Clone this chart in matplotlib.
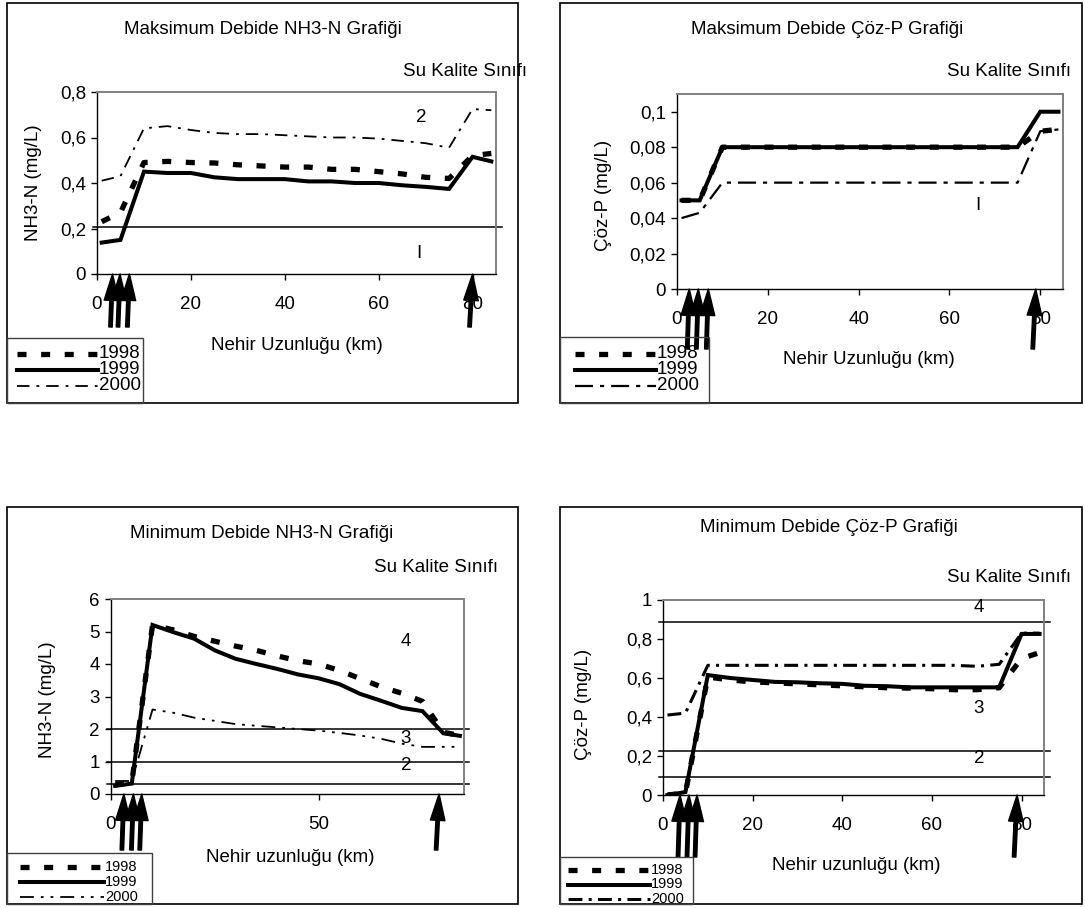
import matplotlib
matplotlib.use('Agg')
import matplotlib.pyplot as plt
from matplotlib.patches import Rectangle
from matplotlib.lines import Line2D

plt.rcParams['font.family'] = ['Liberation Sans', 'DejaVu Sans']
plt.rcParams['lines.scale_dashes'] = False

W, H = 1085, 908
FS = 13.5

# Nehir boyunca ölçüm noktaları (km)
km = [1, 5, 10, 15, 20, 25, 30, 35, 40, 45, 50, 55, 60, 65, 70, 75, 80, 84]
years = ['1998', '1999', '2000']

# Maksimum debide NH3-N (mg/L)
max_nh3_1998 = [0.23, 0.27, 0.49, 0.495, 0.49, 0.488, 0.48, 0.475, 0.47, 0.47, 0.46, 0.46, 0.45, 0.44, 0.425, 0.42, 0.52, 0.53]
max_nh3_1999 = [0.138, 0.15, 0.45, 0.444, 0.444, 0.425, 0.417, 0.417, 0.417, 0.407, 0.407, 0.40, 0.40, 0.39, 0.383, 0.374, 0.515, 0.495]
max_nh3_2000 = [0.41, 0.43, 0.64, 0.65, 0.633, 0.62, 0.615, 0.615, 0.61, 0.605, 0.60, 0.60, 0.595, 0.585, 0.575, 0.555, 0.725, 0.72]

# Maksimum debide Çöz-P (mg/L)
max_p_1998 = [0.05, 0.05, 0.08, 0.08, 0.08, 0.08, 0.08, 0.08, 0.08, 0.08, 0.08, 0.08, 0.08, 0.08, 0.08, 0.08, 0.089, 0.09]
max_p_1999 = [0.05, 0.05, 0.08, 0.08, 0.08, 0.08, 0.08, 0.08, 0.08, 0.08, 0.08, 0.08, 0.08, 0.08, 0.08, 0.08, 0.10, 0.10]
max_p_2000 = [0.04, 0.043, 0.06, 0.06, 0.06, 0.06, 0.06, 0.06, 0.06, 0.06, 0.06, 0.06, 0.06, 0.06, 0.06, 0.06, 0.089, 0.09]

# Minimum debide NH3-N (mg/L)
min_nh3_1998 = [0.28, 0.35, 5.2, 5.05, 4.85, 4.7, 4.55, 4.42, 4.25, 4.1, 4.0, 3.8, 3.55, 3.3, 3.1, 2.85, 1.9, 1.8]
min_nh3_1999 = [0.25, 0.32, 5.2, 4.98, 4.78, 4.42, 4.16, 4.0, 3.85, 3.68, 3.56, 3.38, 3.08, 2.87, 2.65, 2.55, 1.87, 1.79]
min_nh3_2000 = [0.4, 0.4, 2.6, 2.5, 2.35, 2.25, 2.15, 2.1, 2.05, 2.0, 1.95, 1.88, 1.8, 1.7, 1.55, 1.45, 1.45, 1.45]

# Minimum debide Çöz-P (mg/L)
min_p_1998 = [0.0, 0.01, 0.605, 0.59, 0.58, 0.575, 0.57, 0.565, 0.56, 0.555, 0.55, 0.548, 0.545, 0.54, 0.54, 0.55, 0.70, 0.73]
min_p_1999 = [0.0, 0.015, 0.615, 0.60, 0.59, 0.58, 0.578, 0.573, 0.57, 0.56, 0.558, 0.552, 0.552, 0.552, 0.552, 0.552, 0.826, 0.826]
min_p_2000 = [0.41, 0.42, 0.665, 0.665, 0.665, 0.665, 0.665, 0.665, 0.665, 0.665, 0.665, 0.665, 0.665, 0.665, 0.66, 0.67, 0.83, 0.83]

# Su kalite sınıfı sınırları ve etiketleri
class_lines_max_nh3 = [0.205]
class_lines_max_p = []
class_lines_min_nh3 = [2.0, 1.0, 0.3]
class_lines_min_p = [0.885, 0.225, 0.092]
class_labels_max_nh3 = [('2', 69, 0.69), ('I', 68.5, 0.09)]
class_labels_max_p = [('I', 66.3, 0.047)]
class_labels_min_nh3 = [('4', 71, 4.68), ('3', 71, 1.72), ('2', 71, 0.89)]
class_labels_min_p = [('4', 70.5, 0.96), ('3', 70.5, 0.446), ('2', 70.5, 0.185)]

# Deşarj noktaları (oklar, km)
arrows_max_nh3 = [3.3, 4.9, 6.9, 80]
arrows_max_p = [2.7, 4.7, 6.9, 79]
arrows_min_nh3 = [3.1, 5.4, 7.4, 79]
arrows_min_p = [3.8, 5.8, 7.6, 79]

# Eksen etiketleri
yticks_max_nh3 = [0, 0.2, 0.4, 0.6, 0.8]
ylabels_max_nh3 = ['0', '0,2', '0,4', '0,6', '0,8']
yticks_max_p = [0, 0.02, 0.04, 0.06, 0.08, 0.1]
ylabels_max_p = ['0', '0,02', '0,04', '0,06', '0,08', '0,1']
yticks_min_nh3 = [0, 1, 2, 3, 4, 5, 6]
ylabels_min_nh3 = ['0', '1', '2', '3', '4', '5', '6']
yticks_min_p = [0, 0.2, 0.4, 0.6, 0.8, 1.0]
ylabels_min_p = ['0', '0,2', '0,4', '0,6', '0,8', '1']
xticks_20 = [0, 20, 40, 60, 80]
xticks_50 = [0, 50]


def fx(x):
    return x / W


def fy(y):
    return 1 - y / H


def ftext(fig, x, y, s, **kw):
    kw.setdefault('fontsize', FS)
    fig.text(fx(x), fy(y), s, **kw)


def frect(fig, l, t, r, b, **kw):
    fig.add_artist(Rectangle((fx(l), fy(b)), (r - l) / W, (b - t) / H,
                             transform=fig.transFigure, fill=False, **kw))


def series_styles(p):
    s98 = dict(color='black', lw=3.8, dashes=(6.5, 10.5), dash_capstyle='butt', zorder=3)
    s99 = dict(color='black', lw=2.9, solid_joinstyle='miter', zorder=4)
    s00 = dict(color='black', lw=p['lw2000'], dashes=p['dash2000'], dash_capstyle='butt', zorder=5)
    return [s98, s99, s00]


def draw_panel(fig, p):
    box = p['box']
    frect(fig, *box, ec='black', lw=1.2, zorder=0)

    l, t, r, b = p['plot']
    ax = fig.add_axes([fx(l), fy(b), (r - l) / W, (b - t) / H])
    ax.set_facecolor('white')
    for side in ['top', 'right']:
        ax.spines[side].set_color('#808080')
        ax.spines[side].set_linewidth(1.4)
    for side in ['left', 'bottom']:
        ax.spines[side].set_linewidth(1.0)

    styles = series_styles(p)
    for vals, st in zip(p['series'], styles):
        ax.plot(km, vals, **st)

    ax.set_xlim(0, 85)
    ax.set_ylim(0, p['ymax'])
    ax.set_xticks(p['xticks'])
    ax.set_xticklabels([str(v) for v in p['xticks']])
    ax.set_yticks(p['yticks'])
    ax.set_yticklabels(p['ylabels'])
    ax.tick_params(axis='both', direction='out', length=4.5, width=1.0, labelsize=FS)
    ax.tick_params(axis='y', pad=3.5)
    ax.tick_params(axis='x', pad=11)

    # sınıf sınırları
    for v in p['class_lines']:
        ax.plot([-0.01, 1.015], [v, v], color='black', lw=1.1,
                transform=ax.get_yaxis_transform(), clip_on=False, zorder=2)
    for s, x, y in p['class_labels']:
        ax.text(x, y, s, fontsize=FS, ha='center', va='center', zorder=6)

    # deşarj okları
    for i, k in enumerate(p['arrows']):
        ax.annotate('', xy=(k, 0), xytext=(-2 if i < 3 else -3, -p['arrow_len']),
                    textcoords='offset pixels', annotation_clip=False,
                    arrowprops=dict(facecolor='black', edgecolor='black', width=2.5,
                                    headwidth=10.5, headlength=19, shrink=0),
                    zorder=7)

    ftext(fig, *p['title_xy'], p['title'], ha='center', va='center')
    ftext(fig, *p['su_xy'], 'Su Kalite Sınıfı', ha='left', va='center')
    ftext(fig, *p['xlabel_xy'], p['xlabel'], ha='center', va='center')
    ftext(fig, *p['ylabel_xy'], p['ylabel'], ha='center', va='center', rotation=90)

    # lejant
    ll, lt, lr, lb = p['legend']
    frect(fig, ll, lt, lr, lb, ec='#404040', lw=1.0, zorder=1)
    x1, x2 = p['legend_line']
    for yr, st, yy in zip(years, styles, p['legend_rows']):
        st = dict(st)
        st.pop('zorder')
        fig.add_artist(Line2D([fx(x1), fx(x2)], [fy(yy), fy(yy)], transform=fig.transFigure, **st))
        ftext(fig, x2 + 1, yy, yr, ha='left', va='center', fontsize=p['legend_fs'])


panels = [
    dict(box=(7, 3, 518, 403), plot=(97, 92, 496, 274), ymax=0.8,
         series=[max_nh3_1998, max_nh3_1999, max_nh3_2000],
         lw2000=1.3, dash2000=(9, 5, 2, 5),
         xticks=xticks_20, yticks=yticks_max_nh3, ylabels=ylabels_max_nh3,
         class_lines=class_lines_max_nh3, class_labels=class_labels_max_nh3,
         arrows=arrows_max_nh3, arrow_len=53,
         title='Maksimum Debide NH3-N Grafiği', title_xy=(263, 29),
         su_xy=(403, 71), xlabel='Nehir Uzunluğu (km)', xlabel_xy=(297, 346),
         ylabel='NH3-N (mg/L)', ylabel_xy=(34, 183),
         legend=(7, 338, 143, 403), legend_line=(17, 98), legend_rows=(354, 370, 386),
         legend_fs=FS),
    dict(box=(560, 3, 1082, 403), plot=(677, 94, 1063, 289), ymax=0.11,
         series=[max_p_1998, max_p_1999, max_p_2000],
         lw2000=1.6, dash2000=(13, 5, 3, 5),
         xticks=xticks_20, yticks=yticks_max_p, ylabels=ylabels_max_p,
         class_lines=class_lines_max_p, class_labels=class_labels_max_p,
         arrows=arrows_max_p, arrow_len=60,
         title='Maksimum Debide Çöz-P Grafiği', title_xy=(827, 29),
         su_xy=(947, 71), xlabel='Nehir Uzunluğu (km)', xlabel_xy=(869, 359),
         ylabel='Çöz-P (mg/L)', ylabel_xy=(603, 195),
         legend=(560, 337, 709, 403), legend_line=(575, 656), legend_rows=(354, 370, 386),
         legend_fs=FS),
    dict(box=(7, 507, 518, 904), plot=(111, 599, 464, 794), ymax=6,
         series=[min_nh3_1998, min_nh3_1999, min_nh3_2000],
         lw2000=1.3, dash2000=(10, 5, 2, 5, 2, 5),
         xticks=xticks_50, yticks=yticks_min_nh3, ylabels=ylabels_min_nh3,
         class_lines=class_lines_min_nh3, class_labels=class_labels_min_nh3,
         arrows=arrows_min_nh3, arrow_len=56,
         title='Minimum Debide NH3-N Grafiği', title_xy=(262, 533),
         su_xy=(374, 567), xlabel='Nehir uzunluğu (km)', xlabel_xy=(290, 858),
         ylabel='NH3-N (mg/L)', ylabel_xy=(48, 700),
         legend=(7, 853, 152, 904), legend_line=(20, 104), legend_rows=(867, 882, 897),
         legend_fs=10.5),
    dict(box=(560, 507, 1082, 904), plot=(663, 600, 1044, 795), ymax=1.0,
         series=[min_p_1998, min_p_1999, min_p_2000],
         lw2000=2.2, dash2000=(10, 4.5, 2.2, 4.5),
         xticks=xticks_20, yticks=yticks_min_p, ylabels=ylabels_min_p,
         class_lines=class_lines_min_p, class_labels=class_labels_min_p,
         arrows=arrows_min_p, arrow_len=62,
         title='Minimum Debide Çöz-P Grafiği', title_xy=(829, 527),
         su_xy=(947, 578), xlabel='Nehir uzunluğu (km)', xlabel_xy=(856, 866),
         ylabel='Çöz-P (mg/L)', ylabel_xy=(583, 704),
         legend=(560, 857, 693, 904), legend_line=(568, 650), legend_rows=(870, 884.5, 899),
         legend_fs=10.5),
]

fig = plt.figure(figsize=(W / 100, H / 100), dpi=100)
fig.patch.set_facecolor('white')
for p in panels:
    draw_panel(fig, p)

fig.savefig('out.png', dpi=100, facecolor='white')
